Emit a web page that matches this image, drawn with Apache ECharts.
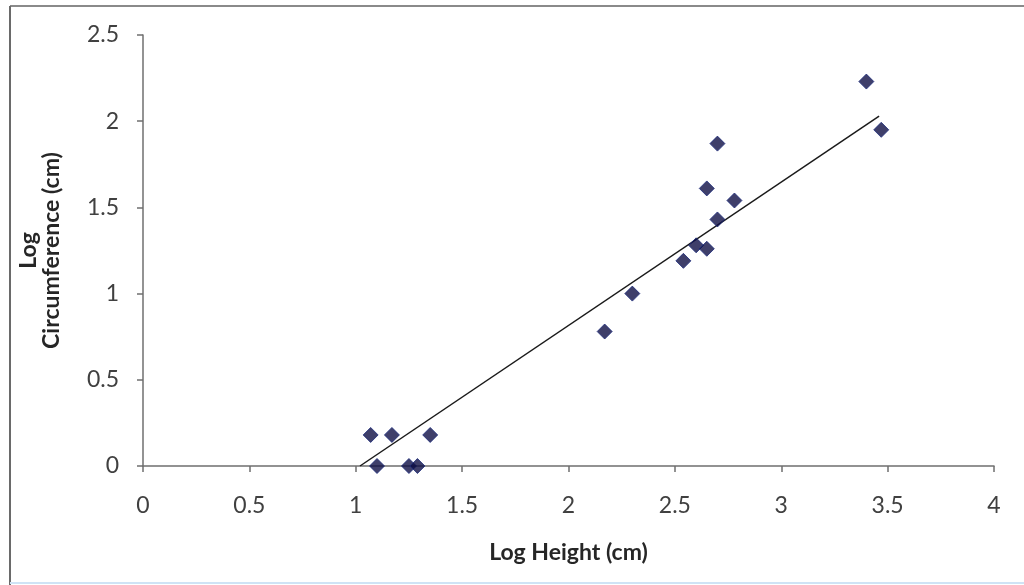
<!DOCTYPE html>
<html>
<head>
<meta charset="utf-8">
<script src="https://cdn.jsdelivr.net/npm/echarts@6/dist/echarts.min.js"></script>
<style>
  html, body { margin: 0; padding: 0; background: #ffffff; }
  #chart { width: 1024px; height: 585px; }
</style>
</head>
<body>
<div id="chart"></div>
<script>
// Data
var logHeight = [1.07, 1.10, 1.17, 1.25, 1.29, 1.35, 2.17, 2.30, 2.54, 2.60, 2.65, 2.70, 2.65, 2.78, 2.70, 3.40, 3.47];
var logCircumference = [0.18, 0.00, 0.18, 0.00, 0.00, 0.18, 0.78, 1.00, 1.19, 1.28, 1.26, 1.43, 1.61, 1.54, 1.87, 2.23, 1.95];
var trendX = [1.02, 3.46];
var trendY = [0.00, 2.03];
var xTitle = 'Log Height (cm)';
var yTitle = 'Log\nCircumference (cm)';

var points = logHeight.map(function (x, i) { return [x, logCircumference[i]]; });
var trend = trendX.map(function (x, i) { return [x, trendY[i]]; });

var FONT = 'Lato, "Open Sans", sans-serif';
var chart = echarts.init(document.getElementById('chart'), null, { renderer: 'canvas' });
chart.setOption({
  animation: false,
  backgroundColor: '#ffffff',
  grid: { left: 143, right: 30, top: 35, bottom: 119, containLabel: false },
  xAxis: {
    type: 'value', min: 0, max: 4, interval: 0.5,
    name: xTitle, nameLocation: 'middle', nameGap: 75,
    nameTextStyle: { fontFamily: FONT, fontSize: 23, fontWeight: 'bold', color: '#262626' },
    axisLine: { show: true, onZero: false, lineStyle: { color: '#6f6f6f', width: 1.5 } },
    axisTick: { show: true, inside: false, length: 6, lineStyle: { color: '#6f6f6f', width: 1.5 } },
    axisLabel: { margin: 28, fontFamily: FONT, fontSize: 23, color: '#404040' },
    splitLine: { show: false }
  },
  yAxis: {
    type: 'value', min: 0, max: 2.5, interval: 0.5,
    name: yTitle, nameLocation: 'middle', nameGap: 80, nameRotate: 90,
    nameTextStyle: { fontFamily: FONT, fontSize: 23, fontWeight: 'bold', color: '#262626', lineHeight: 23, align: 'center' },
    axisLine: { show: true, lineStyle: { color: '#6f6f6f', width: 1.5 } },
    axisTick: { show: true, inside: false, length: 6, lineStyle: { color: '#6f6f6f', width: 1.5 } },
    axisLabel: { margin: 24, fontFamily: FONT, fontSize: 23, color: '#404040' },
    splitLine: { show: false }
  },
  series: [
    {
      type: 'line', data: trend, showSymbol: false, symbol: 'none',
      lineStyle: { color: '#1a1a1a', width: 1.5 }, z: 2, silent: true
    },
    {
      type: 'scatter', data: points, symbol: 'diamond', symbolSize: 15,
      itemStyle: { color: '#0f0f45', borderColor: '#1c2a7a', borderWidth: 1 }, z: 3
    }
  ],
  graphic: [
    { type: 'line', shape: { x1: 10, y1: 6, x2: 1024, y2: 6 }, style: { stroke: '#8a8a8a', lineWidth: 2 } },
    { type: 'line', shape: { x1: 10, y1: 6, x2: 10, y2: 585 }, style: { stroke: '#6a6a6a', lineWidth: 2 } },
    { type: 'line', shape: { x1: 10, y1: 583, x2: 1024, y2: 583 }, style: { stroke: '#cfe3f5', lineWidth: 2 } }
  ]
});
</script>
</body>
</html>
